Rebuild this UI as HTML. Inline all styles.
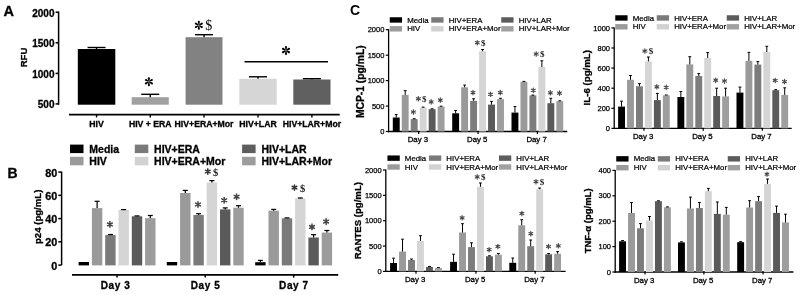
<!DOCTYPE html>
<html><head><meta charset="utf-8"><style>
html,body{margin:0;padding:0;background:#fff;overflow:hidden;}
svg{display:block;filter:grayscale(1) blur(0.3px);}
</style></head><body>
<svg width="800" height="295" viewBox="0 0 800 295">
<defs>
<g id="ast">
<path id="pet" d="M-0.11,-0.12 L-0.23,-0.77 A0.23,0.23 0 1 1 0.23,-0.77 L0.11,-0.12 Z"/>
<use href="#pet" transform="rotate(60)"/>
<use href="#pet" transform="rotate(120)"/>
<use href="#pet" transform="rotate(180)"/>
<use href="#pet" transform="rotate(240)"/>
<use href="#pet" transform="rotate(300)"/>
</g>
<g id="ast2">
<path d="M0,-0.82 L0,0.82 M-0.71,-0.41 L0.71,0.41 M-0.71,0.41 L0.71,-0.41" stroke-width="0.44" stroke-linecap="round" fill="none"/>
</g>
</defs>
<rect width="800" height="295" fill="#fff"/>
<text x="3.60" y="15.70" font-family="'Liberation Sans', sans-serif" font-size="14.5" font-weight="bold" text-anchor="start" fill="#000" stroke="#000" stroke-width="0.3">A</text>
<line x1="58.60" y1="11.50" x2="58.60" y2="104.80" stroke="#000" stroke-width="1.5"/>
<line x1="55.60" y1="12.20" x2="58.60" y2="12.20" stroke="#000" stroke-width="1.5"/>
<text x="54.50" y="16.70" font-family="'Liberation Sans', sans-serif" font-size="10" font-weight="bold" text-anchor="end" fill="#000" stroke="#000" stroke-width="0.3">2000</text>
<line x1="55.60" y1="42.80" x2="58.60" y2="42.80" stroke="#000" stroke-width="1.5"/>
<text x="54.50" y="47.30" font-family="'Liberation Sans', sans-serif" font-size="10" font-weight="bold" text-anchor="end" fill="#000" stroke="#000" stroke-width="0.3">1500</text>
<line x1="55.60" y1="73.40" x2="58.60" y2="73.40" stroke="#000" stroke-width="1.5"/>
<text x="54.50" y="77.90" font-family="'Liberation Sans', sans-serif" font-size="10" font-weight="bold" text-anchor="end" fill="#000" stroke="#000" stroke-width="0.3">1000</text>
<line x1="55.60" y1="103.90" x2="58.60" y2="103.90" stroke="#000" stroke-width="1.5"/>
<text x="54.50" y="108.40" font-family="'Liberation Sans', sans-serif" font-size="10" font-weight="bold" text-anchor="end" fill="#000" stroke="#000" stroke-width="0.3">500</text>
<text x="27.30" y="57.50" font-family="'Liberation Sans', sans-serif" font-size="9.6" font-weight="bold" text-anchor="middle" fill="#000" transform="rotate(-90 27.30 57.50)" stroke="#000" stroke-width="0.3">RFU</text>
<rect x="77.80" y="49.00" width="37.50" height="55.70" fill="#000000"/>
<line x1="96.55" y1="49.00" x2="96.55" y2="47.50" stroke="#000" stroke-width="1.4"/>
<line x1="87.55" y1="47.50" x2="105.55" y2="47.50" stroke="#000" stroke-width="1.4"/>
<line x1="96.55" y1="114.60" x2="96.55" y2="117.40" stroke="#000" stroke-width="1.4"/>
<text x="96.55" y="126.60" font-family="'Liberation Sans', sans-serif" font-size="8.7" font-weight="bold" text-anchor="middle" fill="#000" stroke="#000" stroke-width="0.3">HIV</text>
<rect x="131.70" y="97.20" width="37.10" height="7.50" fill="#a0a0a2"/>
<line x1="150.25" y1="97.20" x2="150.25" y2="94.30" stroke="#000" stroke-width="1.4"/>
<line x1="141.25" y1="94.30" x2="159.25" y2="94.30" stroke="#000" stroke-width="1.4"/>
<line x1="150.25" y1="114.60" x2="150.25" y2="117.40" stroke="#000" stroke-width="1.4"/>
<text x="150.25" y="126.60" font-family="'Liberation Sans', sans-serif" font-size="8.7" font-weight="bold" text-anchor="middle" fill="#000" stroke="#000" stroke-width="0.3">HIV + ERA</text>
<rect x="185.60" y="37.20" width="36.90" height="67.50" fill="#828282"/>
<line x1="204.05" y1="37.20" x2="204.05" y2="34.70" stroke="#000" stroke-width="1.4"/>
<line x1="195.05" y1="34.70" x2="213.05" y2="34.70" stroke="#000" stroke-width="1.4"/>
<line x1="204.05" y1="114.60" x2="204.05" y2="117.40" stroke="#000" stroke-width="1.4"/>
<text x="204.05" y="126.60" font-family="'Liberation Sans', sans-serif" font-size="8.7" font-weight="bold" text-anchor="middle" fill="#000" stroke="#000" stroke-width="0.3">HIV+ERA+Mor</text>
<rect x="239.30" y="78.80" width="37.40" height="25.90" fill="#d6d6d6"/>
<line x1="258.00" y1="78.80" x2="258.00" y2="76.80" stroke="#000" stroke-width="1.4"/>
<line x1="249.00" y1="76.80" x2="267.00" y2="76.80" stroke="#000" stroke-width="1.4"/>
<line x1="258.00" y1="114.60" x2="258.00" y2="117.40" stroke="#000" stroke-width="1.4"/>
<text x="258.00" y="126.60" font-family="'Liberation Sans', sans-serif" font-size="8.7" font-weight="bold" text-anchor="middle" fill="#000" stroke="#000" stroke-width="0.3">HIV+LAR</text>
<rect x="293.30" y="79.50" width="37.20" height="25.20" fill="#606060"/>
<line x1="311.90" y1="79.50" x2="311.90" y2="78.70" stroke="#000" stroke-width="1.4"/>
<line x1="302.90" y1="78.70" x2="320.90" y2="78.70" stroke="#000" stroke-width="1.4"/>
<line x1="311.90" y1="114.60" x2="311.90" y2="117.40" stroke="#000" stroke-width="1.4"/>
<text x="311.90" y="126.60" font-family="'Liberation Sans', sans-serif" font-size="8.7" font-weight="bold" text-anchor="middle" fill="#000" stroke="#000" stroke-width="0.3">HIV+LAR+Mor</text>
<line x1="69.00" y1="114.60" x2="339.70" y2="114.60" stroke="#000" stroke-width="1.6"/>
<use href="#ast" transform="translate(148.90 81.70) scale(4.500)" fill="#000"/>
<use href="#ast" transform="translate(198.85 25.30) scale(4.500)" fill="#000"/>
<text x="205.20" y="29.80" font-family="'Liberation Serif', serif" font-size="14" font-weight="normal" text-anchor="start" fill="#000">$</text>
<line x1="244.50" y1="61.70" x2="328.00" y2="61.70" stroke="#000" stroke-width="1.4"/>
<use href="#ast" transform="translate(286.00 50.50) scale(4.500)" fill="#000"/>
<text x="7.40" y="178.00" font-family="'Liberation Sans', sans-serif" font-size="14" font-weight="bold" text-anchor="start" fill="#000" stroke="#000" stroke-width="0.3">B</text>
<rect x="70.00" y="144.60" width="13.50" height="8.50" fill="#000000"/>
<text x="89.30" y="152.70" font-family="'Liberation Sans', sans-serif" font-size="10.5" font-weight="bold" text-anchor="start" fill="#000" stroke="#000" stroke-width="0.3">Media</text>
<rect x="70.00" y="156.80" width="13.50" height="8.50" fill="#9a9a9a"/>
<text x="89.30" y="164.90" font-family="'Liberation Sans', sans-serif" font-size="10.5" font-weight="bold" text-anchor="start" fill="#000" stroke="#000" stroke-width="0.3">HIV</text>
<rect x="134.80" y="144.60" width="13.50" height="8.50" fill="#7a7a7a"/>
<text x="154.10" y="152.70" font-family="'Liberation Sans', sans-serif" font-size="10.5" font-weight="bold" text-anchor="start" fill="#000" stroke="#000" stroke-width="0.3">HIV+ERA</text>
<rect x="134.80" y="156.80" width="13.50" height="8.50" fill="#d2d2d2"/>
<text x="154.10" y="164.90" font-family="'Liberation Sans', sans-serif" font-size="10.5" font-weight="bold" text-anchor="start" fill="#000" stroke="#000" stroke-width="0.3">HIV+ERA+Mor</text>
<rect x="242.10" y="144.60" width="13.50" height="8.50" fill="#5e5e5e"/>
<text x="261.40" y="152.70" font-family="'Liberation Sans', sans-serif" font-size="10.5" font-weight="bold" text-anchor="start" fill="#000" stroke="#000" stroke-width="0.3">HIV+LAR</text>
<rect x="242.10" y="156.80" width="13.50" height="8.50" fill="#9c9c9c"/>
<text x="261.40" y="164.90" font-family="'Liberation Sans', sans-serif" font-size="10.5" font-weight="bold" text-anchor="start" fill="#000" stroke="#000" stroke-width="0.3">HIV+LAR+Mor</text>
<line x1="61.60" y1="171.60" x2="61.60" y2="265.00" stroke="#000" stroke-width="1.5"/>
<line x1="58.30" y1="172.10" x2="61.60" y2="172.10" stroke="#000" stroke-width="1.5"/>
<text x="57.20" y="176.60" font-family="'Liberation Sans', sans-serif" font-size="10.8" font-weight="bold" text-anchor="end" fill="#000" stroke="#000" stroke-width="0.3">80</text>
<line x1="58.30" y1="195.35" x2="61.60" y2="195.35" stroke="#000" stroke-width="1.5"/>
<text x="57.20" y="199.85" font-family="'Liberation Sans', sans-serif" font-size="10.8" font-weight="bold" text-anchor="end" fill="#000" stroke="#000" stroke-width="0.3">60</text>
<line x1="58.30" y1="218.60" x2="61.60" y2="218.60" stroke="#000" stroke-width="1.5"/>
<text x="57.20" y="223.10" font-family="'Liberation Sans', sans-serif" font-size="10.8" font-weight="bold" text-anchor="end" fill="#000" stroke="#000" stroke-width="0.3">40</text>
<line x1="58.30" y1="241.85" x2="61.60" y2="241.85" stroke="#000" stroke-width="1.5"/>
<text x="57.20" y="246.35" font-family="'Liberation Sans', sans-serif" font-size="10.8" font-weight="bold" text-anchor="end" fill="#000" stroke="#000" stroke-width="0.3">20</text>
<line x1="58.30" y1="265.10" x2="61.60" y2="265.10" stroke="#000" stroke-width="1.5"/>
<text x="57.20" y="269.60" font-family="'Liberation Sans', sans-serif" font-size="10.8" font-weight="bold" text-anchor="end" fill="#000" stroke="#000" stroke-width="0.3">0</text>
<text x="40.80" y="216.80" font-family="'Liberation Sans', sans-serif" font-size="9.6" font-weight="bold" text-anchor="middle" fill="#000" transform="rotate(-90 40.80 216.80)" stroke="#000" stroke-width="0.3">p24 (pg/mL)</text>
<line x1="72.00" y1="274.90" x2="338.20" y2="274.90" stroke="#000" stroke-width="1.8"/>
<rect x="78.60" y="262.00" width="10.40" height="3.40" fill="#000000"/>
<rect x="91.90" y="208.10" width="10.40" height="57.30" fill="#9a9a9a"/>
<line x1="97.10" y1="208.10" x2="97.10" y2="201.30" stroke="#000" stroke-width="1.2"/>
<line x1="94.60" y1="201.30" x2="99.60" y2="201.30" stroke="#000" stroke-width="1.2"/>
<rect x="105.20" y="235.00" width="10.40" height="30.40" fill="#7a7a7a"/>
<line x1="110.40" y1="235.00" x2="110.40" y2="234.50" stroke="#000" stroke-width="1.2"/>
<line x1="107.90" y1="234.50" x2="112.90" y2="234.50" stroke="#000" stroke-width="1.2"/>
<rect x="118.50" y="210.00" width="10.40" height="55.40" fill="#d5d5d5"/>
<line x1="123.70" y1="210.00" x2="123.70" y2="209.60" stroke="#000" stroke-width="1.2"/>
<line x1="121.20" y1="209.60" x2="126.20" y2="209.60" stroke="#000" stroke-width="1.2"/>
<rect x="131.80" y="216.30" width="10.40" height="49.10" fill="#5a5a5a"/>
<line x1="137.00" y1="216.30" x2="137.00" y2="215.90" stroke="#000" stroke-width="1.2"/>
<line x1="134.50" y1="215.90" x2="139.50" y2="215.90" stroke="#000" stroke-width="1.2"/>
<rect x="145.10" y="218.20" width="10.40" height="47.20" fill="#9c9c9c"/>
<line x1="150.30" y1="218.20" x2="150.30" y2="215.50" stroke="#000" stroke-width="1.2"/>
<line x1="147.80" y1="215.50" x2="152.80" y2="215.50" stroke="#000" stroke-width="1.2"/>
<line x1="117.05" y1="274.80" x2="117.05" y2="277.60" stroke="#000" stroke-width="1.5"/>
<text x="115.55" y="288.90" font-family="'Liberation Sans', sans-serif" font-size="10" font-weight="bold" text-anchor="middle" fill="#000" stroke="#000" stroke-width="0.3" letter-spacing="0.6">Day 3</text>
<rect x="166.80" y="262.00" width="10.40" height="3.40" fill="#000000"/>
<rect x="180.10" y="193.00" width="10.40" height="72.40" fill="#9a9a9a"/>
<line x1="185.30" y1="193.00" x2="185.30" y2="190.40" stroke="#000" stroke-width="1.2"/>
<line x1="182.80" y1="190.40" x2="187.80" y2="190.40" stroke="#000" stroke-width="1.2"/>
<rect x="193.40" y="215.00" width="10.40" height="50.40" fill="#7a7a7a"/>
<line x1="198.60" y1="215.00" x2="198.60" y2="213.70" stroke="#000" stroke-width="1.2"/>
<line x1="196.10" y1="213.70" x2="201.10" y2="213.70" stroke="#000" stroke-width="1.2"/>
<rect x="206.70" y="182.50" width="10.40" height="82.90" fill="#d5d5d5"/>
<line x1="211.90" y1="182.50" x2="211.90" y2="180.60" stroke="#000" stroke-width="1.2"/>
<line x1="209.40" y1="180.60" x2="214.40" y2="180.60" stroke="#000" stroke-width="1.2"/>
<rect x="220.00" y="209.40" width="10.40" height="56.00" fill="#5a5a5a"/>
<line x1="225.20" y1="209.40" x2="225.20" y2="207.90" stroke="#000" stroke-width="1.2"/>
<line x1="222.70" y1="207.90" x2="227.70" y2="207.90" stroke="#000" stroke-width="1.2"/>
<rect x="233.30" y="207.70" width="10.40" height="57.70" fill="#9c9c9c"/>
<line x1="238.50" y1="207.70" x2="238.50" y2="205.70" stroke="#000" stroke-width="1.2"/>
<line x1="236.00" y1="205.70" x2="241.00" y2="205.70" stroke="#000" stroke-width="1.2"/>
<line x1="205.25" y1="274.80" x2="205.25" y2="277.60" stroke="#000" stroke-width="1.5"/>
<text x="205.55" y="288.90" font-family="'Liberation Sans', sans-serif" font-size="10" font-weight="bold" text-anchor="middle" fill="#000" stroke="#000" stroke-width="0.3" letter-spacing="0.6">Day 5</text>
<rect x="255.20" y="262.20" width="10.40" height="3.20" fill="#000000"/>
<line x1="260.40" y1="262.20" x2="260.40" y2="260.40" stroke="#000" stroke-width="1.2"/>
<line x1="257.90" y1="260.40" x2="262.90" y2="260.40" stroke="#000" stroke-width="1.2"/>
<rect x="268.50" y="210.70" width="10.40" height="54.70" fill="#9a9a9a"/>
<line x1="273.70" y1="210.70" x2="273.70" y2="209.40" stroke="#000" stroke-width="1.2"/>
<line x1="271.20" y1="209.40" x2="276.20" y2="209.40" stroke="#000" stroke-width="1.2"/>
<rect x="281.80" y="218.30" width="10.40" height="47.10" fill="#7a7a7a"/>
<line x1="287.00" y1="218.30" x2="287.00" y2="217.90" stroke="#000" stroke-width="1.2"/>
<line x1="284.50" y1="217.90" x2="289.50" y2="217.90" stroke="#000" stroke-width="1.2"/>
<rect x="295.10" y="198.40" width="10.40" height="67.00" fill="#d5d5d5"/>
<line x1="300.30" y1="198.40" x2="300.30" y2="198.00" stroke="#000" stroke-width="1.2"/>
<line x1="297.80" y1="198.00" x2="302.80" y2="198.00" stroke="#000" stroke-width="1.2"/>
<rect x="308.40" y="237.50" width="10.40" height="27.90" fill="#5a5a5a"/>
<line x1="313.60" y1="237.50" x2="313.60" y2="234.70" stroke="#000" stroke-width="1.2"/>
<line x1="311.10" y1="234.70" x2="316.10" y2="234.70" stroke="#000" stroke-width="1.2"/>
<rect x="321.70" y="232.60" width="10.40" height="32.80" fill="#9c9c9c"/>
<line x1="326.90" y1="232.60" x2="326.90" y2="230.50" stroke="#000" stroke-width="1.2"/>
<line x1="324.40" y1="230.50" x2="329.40" y2="230.50" stroke="#000" stroke-width="1.2"/>
<line x1="293.65" y1="274.80" x2="293.65" y2="277.60" stroke="#000" stroke-width="1.5"/>
<text x="293.95" y="288.90" font-family="'Liberation Sans', sans-serif" font-size="10" font-weight="bold" text-anchor="middle" fill="#000" stroke="#000" stroke-width="0.3" letter-spacing="0.6">Day 7</text>
<use href="#ast2" transform="translate(109.90 224.40) scale(3.400)" stroke="#454545"/>
<use href="#ast2" transform="translate(198.00 204.50) scale(3.400)" stroke="#454545"/>
<use href="#ast2" transform="translate(224.20 200.20) scale(3.400)" stroke="#454545"/>
<use href="#ast2" transform="translate(236.60 196.70) scale(3.400)" stroke="#454545"/>
<use href="#ast2" transform="translate(312.00 226.90) scale(3.400)" stroke="#454545"/>
<use href="#ast2" transform="translate(326.10 221.60) scale(3.400)" stroke="#454545"/>
<use href="#ast2" transform="translate(207.80 171.50) scale(3.300)" stroke="#333"/>
<text x="213.00" y="176.00" font-family="'Liberation Serif', serif" font-size="10.5" font-weight="bold" text-anchor="start" fill="#222">$</text>
<use href="#ast2" transform="translate(294.50 187.60) scale(3.300)" stroke="#333"/>
<text x="300.00" y="192.20" font-family="'Liberation Serif', serif" font-size="10.5" font-weight="bold" text-anchor="start" fill="#222">$</text>
<text x="349.90" y="15.30" font-family="'Liberation Sans', sans-serif" font-size="14" font-weight="bold" text-anchor="start" fill="#000">C</text>
<rect x="389.75" y="17.25" width="12.30" height="5.40" fill="#000000"/>
<text x="407.15" y="22.55" font-family="'Liberation Sans', sans-serif" font-size="7.85" font-weight="normal" text-anchor="start" fill="#000" stroke="#000" stroke-width="0.22">Media</text>
<rect x="389.75" y="26.10" width="12.30" height="5.40" fill="#9a9a9a"/>
<text x="407.15" y="31.40" font-family="'Liberation Sans', sans-serif" font-size="7.85" font-weight="normal" text-anchor="start" fill="#000" stroke="#000" stroke-width="0.22">HIV</text>
<rect x="431.25" y="17.25" width="12.30" height="5.40" fill="#7a7a7a"/>
<text x="448.65" y="22.55" font-family="'Liberation Sans', sans-serif" font-size="7.85" font-weight="normal" text-anchor="start" fill="#000" stroke="#000" stroke-width="0.22">HIV+ERA</text>
<rect x="431.25" y="26.10" width="12.30" height="5.40" fill="#d2d2d2"/>
<text x="448.65" y="31.40" font-family="'Liberation Sans', sans-serif" font-size="7.85" font-weight="normal" text-anchor="start" fill="#000" stroke="#000" stroke-width="0.22">HIV+ERA+Mor</text>
<rect x="501.25" y="17.25" width="12.30" height="5.40" fill="#5c5c5c"/>
<text x="518.65" y="22.55" font-family="'Liberation Sans', sans-serif" font-size="7.85" font-weight="normal" text-anchor="start" fill="#000" stroke="#000" stroke-width="0.22">HIV+LAR</text>
<rect x="501.25" y="26.10" width="12.30" height="5.40" fill="#a0a0a0"/>
<text x="518.65" y="31.40" font-family="'Liberation Sans', sans-serif" font-size="7.85" font-weight="normal" text-anchor="start" fill="#000" stroke="#000" stroke-width="0.22">HIV+LAR+Mor</text>
<line x1="388.60" y1="29.20" x2="388.60" y2="132.20" stroke="#000" stroke-width="1.3"/>
<line x1="385.80" y1="29.70" x2="388.60" y2="29.70" stroke="#000" stroke-width="1.2"/>
<text x="384.40" y="32.30" font-family="'Liberation Sans', sans-serif" font-size="7.5" font-weight="normal" text-anchor="end" fill="#000" stroke="#000" stroke-width="0.25">2000</text>
<line x1="385.80" y1="55.15" x2="388.60" y2="55.15" stroke="#000" stroke-width="1.2"/>
<text x="384.40" y="57.75" font-family="'Liberation Sans', sans-serif" font-size="7.5" font-weight="normal" text-anchor="end" fill="#000" stroke="#000" stroke-width="0.25">1500</text>
<line x1="385.80" y1="80.60" x2="388.60" y2="80.60" stroke="#000" stroke-width="1.2"/>
<text x="384.40" y="83.20" font-family="'Liberation Sans', sans-serif" font-size="7.5" font-weight="normal" text-anchor="end" fill="#000" stroke="#000" stroke-width="0.25">1000</text>
<line x1="385.80" y1="106.05" x2="388.60" y2="106.05" stroke="#000" stroke-width="1.2"/>
<text x="384.40" y="108.65" font-family="'Liberation Sans', sans-serif" font-size="7.5" font-weight="normal" text-anchor="end" fill="#000" stroke="#000" stroke-width="0.25">500</text>
<line x1="385.80" y1="131.50" x2="388.60" y2="131.50" stroke="#000" stroke-width="1.2"/>
<text x="384.40" y="134.10" font-family="'Liberation Sans', sans-serif" font-size="7.5" font-weight="normal" text-anchor="end" fill="#000" stroke="#000" stroke-width="0.25">0</text>
<line x1="388.00" y1="131.50" x2="567.20" y2="131.50" stroke="#000" stroke-width="1.4"/>
<rect x="392.80" y="117.50" width="6.90" height="14.00" fill="#000000"/>
<line x1="396.25" y1="117.50" x2="396.25" y2="114.60" stroke="#000" stroke-width="1.0"/>
<line x1="394.85" y1="114.60" x2="397.65" y2="114.60" stroke="#000" stroke-width="1.0"/>
<rect x="401.77" y="94.90" width="6.90" height="36.60" fill="#9a9a9a"/>
<line x1="405.22" y1="94.90" x2="405.22" y2="90.70" stroke="#000" stroke-width="1.0"/>
<line x1="403.82" y1="90.70" x2="406.62" y2="90.70" stroke="#000" stroke-width="1.0"/>
<rect x="410.74" y="119.10" width="6.90" height="12.40" fill="#7c7c7c"/>
<line x1="414.19" y1="119.10" x2="414.19" y2="118.70" stroke="#000" stroke-width="1.0"/>
<line x1="412.79" y1="118.70" x2="415.59" y2="118.70" stroke="#000" stroke-width="1.0"/>
<rect x="419.71" y="107.50" width="6.90" height="24.00" fill="#d5d5d5"/>
<line x1="423.16" y1="107.50" x2="423.16" y2="107.10" stroke="#000" stroke-width="1.0"/>
<line x1="421.76" y1="107.10" x2="424.56" y2="107.10" stroke="#000" stroke-width="1.0"/>
<rect x="428.68" y="109.20" width="6.90" height="22.30" fill="#5a5a5a"/>
<line x1="432.13" y1="109.20" x2="432.13" y2="108.80" stroke="#000" stroke-width="1.0"/>
<line x1="430.73" y1="108.80" x2="433.53" y2="108.80" stroke="#000" stroke-width="1.0"/>
<rect x="437.65" y="106.60" width="6.90" height="24.90" fill="#9e9e9e"/>
<line x1="441.10" y1="106.60" x2="441.10" y2="106.20" stroke="#000" stroke-width="1.0"/>
<line x1="439.70" y1="106.20" x2="442.50" y2="106.20" stroke="#000" stroke-width="1.0"/>
<line x1="418.68" y1="131.50" x2="418.68" y2="133.90" stroke="#000" stroke-width="1.2"/>
<text x="417.88" y="142.20" font-family="'Liberation Sans', sans-serif" font-size="7.8" font-weight="normal" text-anchor="middle" fill="#000" stroke="#000" stroke-width="0.3">Day 3</text>
<rect x="452.20" y="113.30" width="6.90" height="18.20" fill="#000000"/>
<line x1="455.65" y1="113.30" x2="455.65" y2="110.50" stroke="#000" stroke-width="1.0"/>
<line x1="454.25" y1="110.50" x2="457.05" y2="110.50" stroke="#000" stroke-width="1.0"/>
<rect x="461.17" y="87.30" width="6.90" height="44.20" fill="#9a9a9a"/>
<line x1="464.62" y1="87.30" x2="464.62" y2="85.10" stroke="#000" stroke-width="1.0"/>
<line x1="463.22" y1="85.10" x2="466.02" y2="85.10" stroke="#000" stroke-width="1.0"/>
<rect x="470.14" y="100.90" width="6.90" height="30.60" fill="#7c7c7c"/>
<line x1="473.59" y1="100.90" x2="473.59" y2="98.80" stroke="#000" stroke-width="1.0"/>
<line x1="472.19" y1="98.80" x2="474.99" y2="98.80" stroke="#000" stroke-width="1.0"/>
<rect x="479.11" y="51.20" width="6.90" height="80.30" fill="#d5d5d5"/>
<line x1="482.56" y1="51.20" x2="482.56" y2="49.50" stroke="#000" stroke-width="1.0"/>
<line x1="481.16" y1="49.50" x2="483.96" y2="49.50" stroke="#000" stroke-width="1.0"/>
<rect x="488.08" y="104.60" width="6.90" height="26.90" fill="#5a5a5a"/>
<line x1="491.53" y1="104.60" x2="491.53" y2="101.40" stroke="#000" stroke-width="1.0"/>
<line x1="490.13" y1="101.40" x2="492.93" y2="101.40" stroke="#000" stroke-width="1.0"/>
<rect x="497.05" y="99.10" width="6.90" height="32.40" fill="#9e9e9e"/>
<line x1="500.50" y1="99.10" x2="500.50" y2="98.30" stroke="#000" stroke-width="1.0"/>
<line x1="499.10" y1="98.30" x2="501.90" y2="98.30" stroke="#000" stroke-width="1.0"/>
<line x1="478.07" y1="131.50" x2="478.07" y2="133.90" stroke="#000" stroke-width="1.2"/>
<text x="477.27" y="142.20" font-family="'Liberation Sans', sans-serif" font-size="7.8" font-weight="normal" text-anchor="middle" fill="#000" stroke="#000" stroke-width="0.3">Day 5</text>
<rect x="511.50" y="112.60" width="6.90" height="18.90" fill="#000000"/>
<line x1="514.95" y1="112.60" x2="514.95" y2="106.50" stroke="#000" stroke-width="1.0"/>
<line x1="513.55" y1="106.50" x2="516.35" y2="106.50" stroke="#000" stroke-width="1.0"/>
<rect x="520.47" y="81.80" width="6.90" height="49.70" fill="#9a9a9a"/>
<line x1="523.92" y1="81.80" x2="523.92" y2="81.40" stroke="#000" stroke-width="1.0"/>
<line x1="522.52" y1="81.40" x2="525.32" y2="81.40" stroke="#000" stroke-width="1.0"/>
<rect x="529.44" y="95.40" width="6.90" height="36.10" fill="#7c7c7c"/>
<line x1="532.89" y1="95.40" x2="532.89" y2="95.10" stroke="#000" stroke-width="1.0"/>
<line x1="531.49" y1="95.10" x2="534.29" y2="95.10" stroke="#000" stroke-width="1.0"/>
<rect x="538.41" y="67.10" width="6.90" height="64.40" fill="#d5d5d5"/>
<line x1="541.86" y1="67.10" x2="541.86" y2="60.80" stroke="#000" stroke-width="1.0"/>
<line x1="540.46" y1="60.80" x2="543.26" y2="60.80" stroke="#000" stroke-width="1.0"/>
<rect x="547.38" y="103.20" width="6.90" height="28.30" fill="#5a5a5a"/>
<line x1="550.83" y1="103.20" x2="550.83" y2="98.30" stroke="#000" stroke-width="1.0"/>
<line x1="549.43" y1="98.30" x2="552.23" y2="98.30" stroke="#000" stroke-width="1.0"/>
<rect x="556.35" y="101.20" width="6.90" height="30.30" fill="#9e9e9e"/>
<line x1="559.80" y1="101.20" x2="559.80" y2="100.80" stroke="#000" stroke-width="1.0"/>
<line x1="558.40" y1="100.80" x2="561.20" y2="100.80" stroke="#000" stroke-width="1.0"/>
<line x1="537.38" y1="131.50" x2="537.38" y2="133.90" stroke="#000" stroke-width="1.2"/>
<text x="536.58" y="142.20" font-family="'Liberation Sans', sans-serif" font-size="7.8" font-weight="normal" text-anchor="middle" fill="#000" stroke="#000" stroke-width="0.3">Day 7</text>
<text x="363.60" y="81.70" font-family="'Liberation Sans', sans-serif" font-size="10.3" font-weight="bold" text-anchor="middle" fill="#000" transform="rotate(-90 363.60 81.70)" stroke="#000" stroke-width="0.3">MCP-1 (pg/mL)</text>
<rect x="615.25" y="15.25" width="12.30" height="5.40" fill="#000000"/>
<text x="632.65" y="20.55" font-family="'Liberation Sans', sans-serif" font-size="7.85" font-weight="normal" text-anchor="start" fill="#000" stroke="#000" stroke-width="0.22">Media</text>
<rect x="615.25" y="24.10" width="12.30" height="5.40" fill="#9a9a9a"/>
<text x="632.65" y="29.40" font-family="'Liberation Sans', sans-serif" font-size="7.85" font-weight="normal" text-anchor="start" fill="#000" stroke="#000" stroke-width="0.22">HIV</text>
<rect x="656.75" y="15.25" width="12.30" height="5.40" fill="#7a7a7a"/>
<text x="674.15" y="20.55" font-family="'Liberation Sans', sans-serif" font-size="7.85" font-weight="normal" text-anchor="start" fill="#000" stroke="#000" stroke-width="0.22">HIV+ERA</text>
<rect x="656.75" y="24.10" width="12.30" height="5.40" fill="#d2d2d2"/>
<text x="674.15" y="29.40" font-family="'Liberation Sans', sans-serif" font-size="7.85" font-weight="normal" text-anchor="start" fill="#000" stroke="#000" stroke-width="0.22">HIV+ERA+Mor</text>
<rect x="726.75" y="15.25" width="12.30" height="5.40" fill="#5c5c5c"/>
<text x="744.15" y="20.55" font-family="'Liberation Sans', sans-serif" font-size="7.85" font-weight="normal" text-anchor="start" fill="#000" stroke="#000" stroke-width="0.22">HIV+LAR</text>
<rect x="726.75" y="24.10" width="12.30" height="5.40" fill="#a0a0a0"/>
<text x="744.15" y="29.40" font-family="'Liberation Sans', sans-serif" font-size="7.85" font-weight="normal" text-anchor="start" fill="#000" stroke="#000" stroke-width="0.22">HIV+LAR+Mor</text>
<line x1="614.20" y1="27.40" x2="614.20" y2="129.10" stroke="#000" stroke-width="1.3"/>
<line x1="611.40" y1="27.90" x2="614.20" y2="27.90" stroke="#000" stroke-width="1.2"/>
<text x="610.00" y="30.50" font-family="'Liberation Sans', sans-serif" font-size="7.5" font-weight="normal" text-anchor="end" fill="#000" stroke="#000" stroke-width="0.25">1000</text>
<line x1="611.40" y1="48.00" x2="614.20" y2="48.00" stroke="#000" stroke-width="1.2"/>
<text x="610.00" y="50.60" font-family="'Liberation Sans', sans-serif" font-size="7.5" font-weight="normal" text-anchor="end" fill="#000" stroke="#000" stroke-width="0.25">800</text>
<line x1="611.40" y1="68.10" x2="614.20" y2="68.10" stroke="#000" stroke-width="1.2"/>
<text x="610.00" y="70.70" font-family="'Liberation Sans', sans-serif" font-size="7.5" font-weight="normal" text-anchor="end" fill="#000" stroke="#000" stroke-width="0.25">600</text>
<line x1="611.40" y1="88.20" x2="614.20" y2="88.20" stroke="#000" stroke-width="1.2"/>
<text x="610.00" y="90.80" font-family="'Liberation Sans', sans-serif" font-size="7.5" font-weight="normal" text-anchor="end" fill="#000" stroke="#000" stroke-width="0.25">400</text>
<line x1="611.40" y1="108.30" x2="614.20" y2="108.30" stroke="#000" stroke-width="1.2"/>
<text x="610.00" y="110.90" font-family="'Liberation Sans', sans-serif" font-size="7.5" font-weight="normal" text-anchor="end" fill="#000" stroke="#000" stroke-width="0.25">200</text>
<line x1="611.40" y1="128.40" x2="614.20" y2="128.40" stroke="#000" stroke-width="1.2"/>
<text x="610.00" y="131.00" font-family="'Liberation Sans', sans-serif" font-size="7.5" font-weight="normal" text-anchor="end" fill="#000" stroke="#000" stroke-width="0.25">0</text>
<line x1="613.60" y1="128.40" x2="791.70" y2="128.40" stroke="#000" stroke-width="1.4"/>
<rect x="618.10" y="106.60" width="6.90" height="21.80" fill="#000000"/>
<line x1="621.55" y1="106.60" x2="621.55" y2="101.20" stroke="#000" stroke-width="1.0"/>
<line x1="620.15" y1="101.20" x2="622.95" y2="101.20" stroke="#000" stroke-width="1.0"/>
<rect x="627.05" y="79.80" width="6.90" height="48.60" fill="#9a9a9a"/>
<line x1="630.50" y1="79.80" x2="630.50" y2="75.50" stroke="#000" stroke-width="1.0"/>
<line x1="629.10" y1="75.50" x2="631.90" y2="75.50" stroke="#000" stroke-width="1.0"/>
<rect x="636.00" y="86.30" width="6.90" height="42.10" fill="#7c7c7c"/>
<line x1="639.45" y1="86.30" x2="639.45" y2="83.60" stroke="#000" stroke-width="1.0"/>
<line x1="638.05" y1="83.60" x2="640.85" y2="83.60" stroke="#000" stroke-width="1.0"/>
<rect x="644.95" y="61.40" width="6.90" height="67.00" fill="#d5d5d5"/>
<line x1="648.40" y1="61.40" x2="648.40" y2="57.00" stroke="#000" stroke-width="1.0"/>
<line x1="647.00" y1="57.00" x2="649.80" y2="57.00" stroke="#000" stroke-width="1.0"/>
<rect x="653.90" y="100.10" width="6.90" height="28.30" fill="#5a5a5a"/>
<line x1="657.35" y1="100.10" x2="657.35" y2="93.40" stroke="#000" stroke-width="1.0"/>
<line x1="655.95" y1="93.40" x2="658.75" y2="93.40" stroke="#000" stroke-width="1.0"/>
<rect x="662.85" y="95.30" width="6.90" height="33.10" fill="#9e9e9e"/>
<line x1="664.90" y1="95.00" x2="667.70" y2="95.00" stroke="#000" stroke-width="1.0"/>
<line x1="643.93" y1="128.40" x2="643.93" y2="130.80" stroke="#000" stroke-width="1.2"/>
<text x="643.13" y="139.10" font-family="'Liberation Sans', sans-serif" font-size="7.8" font-weight="normal" text-anchor="middle" fill="#000" stroke="#000" stroke-width="0.3">Day 3</text>
<rect x="677.40" y="97.00" width="6.90" height="31.40" fill="#000000"/>
<line x1="680.85" y1="97.00" x2="680.85" y2="91.50" stroke="#000" stroke-width="1.0"/>
<line x1="679.45" y1="91.50" x2="682.25" y2="91.50" stroke="#000" stroke-width="1.0"/>
<rect x="686.35" y="64.40" width="6.90" height="64.00" fill="#9a9a9a"/>
<line x1="689.80" y1="64.40" x2="689.80" y2="56.70" stroke="#000" stroke-width="1.0"/>
<line x1="688.40" y1="56.70" x2="691.20" y2="56.70" stroke="#000" stroke-width="1.0"/>
<rect x="695.30" y="76.00" width="6.90" height="52.40" fill="#7c7c7c"/>
<line x1="698.75" y1="76.00" x2="698.75" y2="73.60" stroke="#000" stroke-width="1.0"/>
<line x1="697.35" y1="73.60" x2="700.15" y2="73.60" stroke="#000" stroke-width="1.0"/>
<rect x="704.25" y="57.90" width="6.90" height="70.50" fill="#d5d5d5"/>
<line x1="707.70" y1="57.90" x2="707.70" y2="52.60" stroke="#000" stroke-width="1.0"/>
<line x1="706.30" y1="52.60" x2="709.10" y2="52.60" stroke="#000" stroke-width="1.0"/>
<rect x="713.20" y="96.00" width="6.90" height="32.40" fill="#5a5a5a"/>
<line x1="716.65" y1="96.00" x2="716.65" y2="88.20" stroke="#000" stroke-width="1.0"/>
<line x1="715.25" y1="88.20" x2="718.05" y2="88.20" stroke="#000" stroke-width="1.0"/>
<rect x="722.15" y="96.40" width="6.90" height="32.00" fill="#9e9e9e"/>
<line x1="725.60" y1="96.40" x2="725.60" y2="88.20" stroke="#000" stroke-width="1.0"/>
<line x1="724.20" y1="88.20" x2="727.00" y2="88.20" stroke="#000" stroke-width="1.0"/>
<line x1="703.23" y1="128.40" x2="703.23" y2="130.80" stroke="#000" stroke-width="1.2"/>
<text x="702.43" y="139.10" font-family="'Liberation Sans', sans-serif" font-size="7.8" font-weight="normal" text-anchor="middle" fill="#000" stroke="#000" stroke-width="0.3">Day 5</text>
<rect x="736.50" y="92.60" width="6.90" height="35.80" fill="#000000"/>
<line x1="739.95" y1="92.60" x2="739.95" y2="87.10" stroke="#000" stroke-width="1.0"/>
<line x1="738.55" y1="87.10" x2="741.35" y2="87.10" stroke="#000" stroke-width="1.0"/>
<rect x="745.45" y="60.90" width="6.90" height="67.50" fill="#9a9a9a"/>
<line x1="748.90" y1="60.90" x2="748.90" y2="52.40" stroke="#000" stroke-width="1.0"/>
<line x1="747.50" y1="52.40" x2="750.30" y2="52.40" stroke="#000" stroke-width="1.0"/>
<rect x="754.40" y="64.60" width="6.90" height="63.80" fill="#7c7c7c"/>
<line x1="757.85" y1="64.60" x2="757.85" y2="61.60" stroke="#000" stroke-width="1.0"/>
<line x1="756.45" y1="61.60" x2="759.25" y2="61.60" stroke="#000" stroke-width="1.0"/>
<rect x="763.35" y="52.00" width="6.90" height="76.40" fill="#d5d5d5"/>
<line x1="766.80" y1="52.00" x2="766.80" y2="46.30" stroke="#000" stroke-width="1.0"/>
<line x1="765.40" y1="46.30" x2="768.20" y2="46.30" stroke="#000" stroke-width="1.0"/>
<rect x="772.30" y="90.20" width="6.90" height="38.20" fill="#5a5a5a"/>
<line x1="775.75" y1="90.20" x2="775.75" y2="89.70" stroke="#000" stroke-width="1.0"/>
<line x1="774.35" y1="89.70" x2="777.15" y2="89.70" stroke="#000" stroke-width="1.0"/>
<rect x="781.25" y="94.90" width="6.90" height="33.50" fill="#9e9e9e"/>
<line x1="784.70" y1="94.90" x2="784.70" y2="87.80" stroke="#000" stroke-width="1.0"/>
<line x1="783.30" y1="87.80" x2="786.10" y2="87.80" stroke="#000" stroke-width="1.0"/>
<line x1="762.33" y1="128.40" x2="762.33" y2="130.80" stroke="#000" stroke-width="1.2"/>
<text x="761.53" y="139.10" font-family="'Liberation Sans', sans-serif" font-size="7.8" font-weight="normal" text-anchor="middle" fill="#000" stroke="#000" stroke-width="0.3">Day 7</text>
<text x="590.20" y="77.70" font-family="'Liberation Sans', sans-serif" font-size="9.7" font-weight="bold" text-anchor="middle" fill="#000" transform="rotate(-90 590.20 77.70)" stroke="#000" stroke-width="0.3">IL-6 (pg/mL)</text>
<rect x="387.45" y="155.45" width="12.30" height="5.40" fill="#000000"/>
<text x="404.85" y="160.75" font-family="'Liberation Sans', sans-serif" font-size="7.85" font-weight="normal" text-anchor="start" fill="#000" stroke="#000" stroke-width="0.22">Media</text>
<rect x="387.45" y="164.30" width="12.30" height="5.40" fill="#9a9a9a"/>
<text x="404.85" y="169.60" font-family="'Liberation Sans', sans-serif" font-size="7.85" font-weight="normal" text-anchor="start" fill="#000" stroke="#000" stroke-width="0.22">HIV</text>
<rect x="428.95" y="155.45" width="12.30" height="5.40" fill="#7a7a7a"/>
<text x="446.35" y="160.75" font-family="'Liberation Sans', sans-serif" font-size="7.85" font-weight="normal" text-anchor="start" fill="#000" stroke="#000" stroke-width="0.22">HIV+ERA</text>
<rect x="428.95" y="164.30" width="12.30" height="5.40" fill="#d2d2d2"/>
<text x="446.35" y="169.60" font-family="'Liberation Sans', sans-serif" font-size="7.85" font-weight="normal" text-anchor="start" fill="#000" stroke="#000" stroke-width="0.22">HIV+ERA+Mor</text>
<rect x="498.95" y="155.45" width="12.30" height="5.40" fill="#5c5c5c"/>
<text x="516.35" y="160.75" font-family="'Liberation Sans', sans-serif" font-size="7.85" font-weight="normal" text-anchor="start" fill="#000" stroke="#000" stroke-width="0.22">HIV+LAR</text>
<rect x="498.95" y="164.30" width="12.30" height="5.40" fill="#a0a0a0"/>
<text x="516.35" y="169.60" font-family="'Liberation Sans', sans-serif" font-size="7.85" font-weight="normal" text-anchor="start" fill="#000" stroke="#000" stroke-width="0.22">HIV+LAR+Mor</text>
<line x1="385.80" y1="169.60" x2="385.80" y2="272.10" stroke="#000" stroke-width="1.3"/>
<line x1="383.00" y1="170.00" x2="385.80" y2="170.00" stroke="#000" stroke-width="1.2"/>
<text x="381.60" y="172.60" font-family="'Liberation Sans', sans-serif" font-size="7.5" font-weight="normal" text-anchor="end" fill="#000" stroke="#000" stroke-width="0.25">2000</text>
<line x1="383.00" y1="195.35" x2="385.80" y2="195.35" stroke="#000" stroke-width="1.2"/>
<text x="381.60" y="197.95" font-family="'Liberation Sans', sans-serif" font-size="7.5" font-weight="normal" text-anchor="end" fill="#000" stroke="#000" stroke-width="0.25">1500</text>
<line x1="383.00" y1="220.70" x2="385.80" y2="220.70" stroke="#000" stroke-width="1.2"/>
<text x="381.60" y="223.30" font-family="'Liberation Sans', sans-serif" font-size="7.5" font-weight="normal" text-anchor="end" fill="#000" stroke="#000" stroke-width="0.25">1000</text>
<line x1="383.00" y1="246.05" x2="385.80" y2="246.05" stroke="#000" stroke-width="1.2"/>
<text x="381.60" y="248.65" font-family="'Liberation Sans', sans-serif" font-size="7.5" font-weight="normal" text-anchor="end" fill="#000" stroke="#000" stroke-width="0.25">500</text>
<line x1="383.00" y1="271.40" x2="385.80" y2="271.40" stroke="#000" stroke-width="1.2"/>
<text x="381.60" y="274.00" font-family="'Liberation Sans', sans-serif" font-size="7.5" font-weight="normal" text-anchor="end" fill="#000" stroke="#000" stroke-width="0.25">0</text>
<line x1="385.20" y1="271.40" x2="565.60" y2="271.40" stroke="#000" stroke-width="1.4"/>
<rect x="390.10" y="263.00" width="6.90" height="8.40" fill="#000000"/>
<line x1="393.55" y1="263.00" x2="393.55" y2="258.20" stroke="#000" stroke-width="1.0"/>
<line x1="392.15" y1="258.20" x2="394.95" y2="258.20" stroke="#000" stroke-width="1.0"/>
<rect x="399.07" y="251.60" width="6.90" height="19.80" fill="#9a9a9a"/>
<line x1="402.52" y1="251.60" x2="402.52" y2="239.20" stroke="#000" stroke-width="1.0"/>
<line x1="401.12" y1="239.20" x2="403.92" y2="239.20" stroke="#000" stroke-width="1.0"/>
<rect x="408.04" y="259.90" width="6.90" height="11.50" fill="#7c7c7c"/>
<line x1="411.49" y1="259.90" x2="411.49" y2="259.00" stroke="#000" stroke-width="1.0"/>
<line x1="410.09" y1="259.00" x2="412.89" y2="259.00" stroke="#000" stroke-width="1.0"/>
<rect x="417.01" y="240.90" width="6.90" height="30.50" fill="#d5d5d5"/>
<line x1="420.46" y1="240.90" x2="420.46" y2="235.70" stroke="#000" stroke-width="1.0"/>
<line x1="419.06" y1="235.70" x2="421.86" y2="235.70" stroke="#000" stroke-width="1.0"/>
<rect x="425.98" y="267.00" width="6.90" height="4.40" fill="#5a5a5a"/>
<line x1="429.43" y1="267.00" x2="429.43" y2="266.50" stroke="#000" stroke-width="1.0"/>
<line x1="428.03" y1="266.50" x2="430.83" y2="266.50" stroke="#000" stroke-width="1.0"/>
<rect x="434.95" y="268.00" width="6.90" height="3.40" fill="#9e9e9e"/>
<line x1="438.40" y1="268.00" x2="438.40" y2="267.50" stroke="#000" stroke-width="1.0"/>
<line x1="437.00" y1="267.50" x2="439.80" y2="267.50" stroke="#000" stroke-width="1.0"/>
<line x1="415.98" y1="271.40" x2="415.98" y2="273.80" stroke="#000" stroke-width="1.2"/>
<text x="415.18" y="282.10" font-family="'Liberation Sans', sans-serif" font-size="7.8" font-weight="normal" text-anchor="middle" fill="#000" stroke="#000" stroke-width="0.3">Day 3</text>
<rect x="450.10" y="261.80" width="6.90" height="9.60" fill="#000000"/>
<line x1="453.55" y1="261.80" x2="453.55" y2="254.20" stroke="#000" stroke-width="1.0"/>
<line x1="452.15" y1="254.20" x2="454.95" y2="254.20" stroke="#000" stroke-width="1.0"/>
<rect x="459.07" y="232.50" width="6.90" height="38.90" fill="#9a9a9a"/>
<line x1="462.52" y1="232.50" x2="462.52" y2="223.70" stroke="#000" stroke-width="1.0"/>
<line x1="461.12" y1="223.70" x2="463.92" y2="223.70" stroke="#000" stroke-width="1.0"/>
<rect x="468.04" y="247.10" width="6.90" height="24.30" fill="#7c7c7c"/>
<line x1="471.49" y1="247.10" x2="471.49" y2="242.80" stroke="#000" stroke-width="1.0"/>
<line x1="470.09" y1="242.80" x2="472.89" y2="242.80" stroke="#000" stroke-width="1.0"/>
<rect x="477.01" y="186.80" width="6.90" height="84.60" fill="#d5d5d5"/>
<line x1="480.46" y1="186.80" x2="480.46" y2="183.00" stroke="#000" stroke-width="1.0"/>
<line x1="479.06" y1="183.00" x2="481.86" y2="183.00" stroke="#000" stroke-width="1.0"/>
<rect x="485.98" y="256.30" width="6.90" height="15.10" fill="#5a5a5a"/>
<line x1="489.43" y1="256.30" x2="489.43" y2="255.80" stroke="#000" stroke-width="1.0"/>
<line x1="488.03" y1="255.80" x2="490.83" y2="255.80" stroke="#000" stroke-width="1.0"/>
<rect x="494.95" y="254.70" width="6.90" height="16.70" fill="#9e9e9e"/>
<line x1="498.40" y1="254.70" x2="498.40" y2="253.50" stroke="#000" stroke-width="1.0"/>
<line x1="497.00" y1="253.50" x2="499.80" y2="253.50" stroke="#000" stroke-width="1.0"/>
<line x1="475.98" y1="271.40" x2="475.98" y2="273.80" stroke="#000" stroke-width="1.2"/>
<text x="475.18" y="282.10" font-family="'Liberation Sans', sans-serif" font-size="7.8" font-weight="normal" text-anchor="middle" fill="#000" stroke="#000" stroke-width="0.3">Day 5</text>
<rect x="509.30" y="262.80" width="6.90" height="8.60" fill="#000000"/>
<line x1="512.75" y1="262.80" x2="512.75" y2="258.00" stroke="#000" stroke-width="1.0"/>
<line x1="511.35" y1="258.00" x2="514.15" y2="258.00" stroke="#000" stroke-width="1.0"/>
<rect x="518.27" y="225.30" width="6.90" height="46.10" fill="#9a9a9a"/>
<line x1="521.72" y1="225.30" x2="521.72" y2="219.70" stroke="#000" stroke-width="1.0"/>
<line x1="520.32" y1="219.70" x2="523.12" y2="219.70" stroke="#000" stroke-width="1.0"/>
<rect x="527.24" y="246.20" width="6.90" height="25.20" fill="#7c7c7c"/>
<line x1="530.69" y1="246.20" x2="530.69" y2="240.00" stroke="#000" stroke-width="1.0"/>
<line x1="529.29" y1="240.00" x2="532.09" y2="240.00" stroke="#000" stroke-width="1.0"/>
<rect x="536.21" y="189.20" width="6.90" height="82.20" fill="#d5d5d5"/>
<line x1="539.66" y1="189.20" x2="539.66" y2="188.00" stroke="#000" stroke-width="1.0"/>
<line x1="538.26" y1="188.00" x2="541.06" y2="188.00" stroke="#000" stroke-width="1.0"/>
<rect x="545.18" y="254.30" width="6.90" height="17.10" fill="#5a5a5a"/>
<line x1="548.63" y1="254.30" x2="548.63" y2="253.50" stroke="#000" stroke-width="1.0"/>
<line x1="547.23" y1="253.50" x2="550.03" y2="253.50" stroke="#000" stroke-width="1.0"/>
<rect x="554.15" y="253.80" width="6.90" height="17.60" fill="#9e9e9e"/>
<line x1="557.60" y1="253.80" x2="557.60" y2="251.60" stroke="#000" stroke-width="1.0"/>
<line x1="556.20" y1="251.60" x2="559.00" y2="251.60" stroke="#000" stroke-width="1.0"/>
<line x1="535.17" y1="271.40" x2="535.17" y2="273.80" stroke="#000" stroke-width="1.2"/>
<text x="534.38" y="282.10" font-family="'Liberation Sans', sans-serif" font-size="7.8" font-weight="normal" text-anchor="middle" fill="#000" stroke="#000" stroke-width="0.3">Day 7</text>
<text x="361.00" y="220.70" font-family="'Liberation Sans', sans-serif" font-size="9.6" font-weight="bold" text-anchor="middle" fill="#000" transform="rotate(-90 361.00 220.70)" stroke="#000" stroke-width="0.3">RANTES (pg/mL)</text>
<rect x="616.25" y="156.15" width="12.30" height="5.40" fill="#000000"/>
<text x="633.65" y="161.45" font-family="'Liberation Sans', sans-serif" font-size="7.85" font-weight="normal" text-anchor="start" fill="#000" stroke="#000" stroke-width="0.22">Media</text>
<rect x="616.25" y="165.00" width="12.30" height="5.40" fill="#9a9a9a"/>
<text x="633.65" y="170.30" font-family="'Liberation Sans', sans-serif" font-size="7.85" font-weight="normal" text-anchor="start" fill="#000" stroke="#000" stroke-width="0.22">HIV</text>
<rect x="657.75" y="156.15" width="12.30" height="5.40" fill="#7a7a7a"/>
<text x="675.15" y="161.45" font-family="'Liberation Sans', sans-serif" font-size="7.85" font-weight="normal" text-anchor="start" fill="#000" stroke="#000" stroke-width="0.22">HIV+ERA</text>
<rect x="657.75" y="165.00" width="12.30" height="5.40" fill="#d2d2d2"/>
<text x="675.15" y="170.30" font-family="'Liberation Sans', sans-serif" font-size="7.85" font-weight="normal" text-anchor="start" fill="#000" stroke="#000" stroke-width="0.22">HIV+ERA+Mor</text>
<rect x="727.75" y="156.15" width="12.30" height="5.40" fill="#5c5c5c"/>
<text x="745.15" y="161.45" font-family="'Liberation Sans', sans-serif" font-size="7.85" font-weight="normal" text-anchor="start" fill="#000" stroke="#000" stroke-width="0.22">HIV+LAR</text>
<rect x="727.75" y="165.00" width="12.30" height="5.40" fill="#a0a0a0"/>
<text x="745.15" y="170.30" font-family="'Liberation Sans', sans-serif" font-size="7.85" font-weight="normal" text-anchor="start" fill="#000" stroke="#000" stroke-width="0.22">HIV+LAR+Mor</text>
<line x1="615.20" y1="169.90" x2="615.20" y2="272.70" stroke="#000" stroke-width="1.3"/>
<line x1="612.40" y1="170.40" x2="615.20" y2="170.40" stroke="#000" stroke-width="1.2"/>
<text x="611.00" y="173.00" font-family="'Liberation Sans', sans-serif" font-size="7.5" font-weight="normal" text-anchor="end" fill="#000" stroke="#000" stroke-width="0.25">400</text>
<line x1="612.40" y1="195.80" x2="615.20" y2="195.80" stroke="#000" stroke-width="1.2"/>
<text x="611.00" y="198.40" font-family="'Liberation Sans', sans-serif" font-size="7.5" font-weight="normal" text-anchor="end" fill="#000" stroke="#000" stroke-width="0.25">300</text>
<line x1="612.40" y1="221.20" x2="615.20" y2="221.20" stroke="#000" stroke-width="1.2"/>
<text x="611.00" y="223.80" font-family="'Liberation Sans', sans-serif" font-size="7.5" font-weight="normal" text-anchor="end" fill="#000" stroke="#000" stroke-width="0.25">200</text>
<line x1="612.40" y1="246.60" x2="615.20" y2="246.60" stroke="#000" stroke-width="1.2"/>
<text x="611.00" y="249.20" font-family="'Liberation Sans', sans-serif" font-size="7.5" font-weight="normal" text-anchor="end" fill="#000" stroke="#000" stroke-width="0.25">100</text>
<line x1="612.40" y1="272.00" x2="615.20" y2="272.00" stroke="#000" stroke-width="1.2"/>
<text x="611.00" y="274.60" font-family="'Liberation Sans', sans-serif" font-size="7.5" font-weight="normal" text-anchor="end" fill="#000" stroke="#000" stroke-width="0.25">0</text>
<line x1="614.60" y1="272.00" x2="793.40" y2="272.00" stroke="#000" stroke-width="1.4"/>
<rect x="619.10" y="241.30" width="6.90" height="30.70" fill="#000000"/>
<line x1="622.55" y1="241.30" x2="622.55" y2="240.50" stroke="#000" stroke-width="1.0"/>
<line x1="621.15" y1="240.50" x2="623.95" y2="240.50" stroke="#000" stroke-width="1.0"/>
<rect x="628.07" y="213.00" width="6.90" height="59.00" fill="#9a9a9a"/>
<line x1="631.52" y1="213.00" x2="631.52" y2="202.60" stroke="#000" stroke-width="1.0"/>
<line x1="630.12" y1="202.60" x2="632.92" y2="202.60" stroke="#000" stroke-width="1.0"/>
<rect x="637.04" y="228.30" width="6.90" height="43.70" fill="#7c7c7c"/>
<line x1="640.49" y1="228.30" x2="640.49" y2="223.60" stroke="#000" stroke-width="1.0"/>
<line x1="639.09" y1="223.60" x2="641.89" y2="223.60" stroke="#000" stroke-width="1.0"/>
<rect x="646.01" y="220.50" width="6.90" height="51.50" fill="#d5d5d5"/>
<line x1="649.46" y1="220.50" x2="649.46" y2="216.50" stroke="#000" stroke-width="1.0"/>
<line x1="648.06" y1="216.50" x2="650.86" y2="216.50" stroke="#000" stroke-width="1.0"/>
<rect x="654.98" y="201.20" width="6.90" height="70.80" fill="#5a5a5a"/>
<line x1="658.43" y1="201.20" x2="658.43" y2="200.80" stroke="#000" stroke-width="1.0"/>
<line x1="657.03" y1="200.80" x2="659.83" y2="200.80" stroke="#000" stroke-width="1.0"/>
<rect x="663.95" y="207.30" width="6.90" height="64.70" fill="#9e9e9e"/>
<line x1="667.40" y1="207.30" x2="667.40" y2="206.90" stroke="#000" stroke-width="1.0"/>
<line x1="666.00" y1="206.90" x2="668.80" y2="206.90" stroke="#000" stroke-width="1.0"/>
<line x1="644.98" y1="272.00" x2="644.98" y2="274.40" stroke="#000" stroke-width="1.2"/>
<text x="644.18" y="282.70" font-family="'Liberation Sans', sans-serif" font-size="7.8" font-weight="normal" text-anchor="middle" fill="#000" stroke="#000" stroke-width="0.3">Day 3</text>
<rect x="678.00" y="242.40" width="6.90" height="29.60" fill="#000000"/>
<line x1="681.45" y1="242.40" x2="681.45" y2="241.80" stroke="#000" stroke-width="1.0"/>
<line x1="680.05" y1="241.80" x2="682.85" y2="241.80" stroke="#000" stroke-width="1.0"/>
<rect x="686.97" y="208.50" width="6.90" height="63.50" fill="#9a9a9a"/>
<line x1="690.42" y1="208.50" x2="690.42" y2="197.10" stroke="#000" stroke-width="1.0"/>
<line x1="689.02" y1="197.10" x2="691.82" y2="197.10" stroke="#000" stroke-width="1.0"/>
<rect x="695.94" y="208.00" width="6.90" height="64.00" fill="#7c7c7c"/>
<line x1="699.39" y1="208.00" x2="699.39" y2="202.50" stroke="#000" stroke-width="1.0"/>
<line x1="697.99" y1="202.50" x2="700.79" y2="202.50" stroke="#000" stroke-width="1.0"/>
<rect x="704.91" y="191.20" width="6.90" height="80.80" fill="#d5d5d5"/>
<line x1="708.36" y1="191.20" x2="708.36" y2="188.40" stroke="#000" stroke-width="1.0"/>
<line x1="706.96" y1="188.40" x2="709.76" y2="188.40" stroke="#000" stroke-width="1.0"/>
<rect x="713.88" y="213.90" width="6.90" height="58.10" fill="#5a5a5a"/>
<line x1="717.33" y1="213.90" x2="717.33" y2="202.00" stroke="#000" stroke-width="1.0"/>
<line x1="715.93" y1="202.00" x2="718.73" y2="202.00" stroke="#000" stroke-width="1.0"/>
<rect x="722.85" y="214.70" width="6.90" height="57.30" fill="#9e9e9e"/>
<line x1="726.30" y1="214.70" x2="726.30" y2="207.40" stroke="#000" stroke-width="1.0"/>
<line x1="724.90" y1="207.40" x2="727.70" y2="207.40" stroke="#000" stroke-width="1.0"/>
<line x1="703.88" y1="272.00" x2="703.88" y2="274.40" stroke="#000" stroke-width="1.2"/>
<text x="703.08" y="282.70" font-family="'Liberation Sans', sans-serif" font-size="7.8" font-weight="normal" text-anchor="middle" fill="#000" stroke="#000" stroke-width="0.3">Day 5</text>
<rect x="737.20" y="242.20" width="6.90" height="29.80" fill="#000000"/>
<line x1="740.65" y1="242.20" x2="740.65" y2="241.60" stroke="#000" stroke-width="1.0"/>
<line x1="739.25" y1="241.60" x2="742.05" y2="241.60" stroke="#000" stroke-width="1.0"/>
<rect x="746.17" y="207.50" width="6.90" height="64.50" fill="#9a9a9a"/>
<line x1="749.62" y1="207.50" x2="749.62" y2="200.70" stroke="#000" stroke-width="1.0"/>
<line x1="748.22" y1="200.70" x2="751.02" y2="200.70" stroke="#000" stroke-width="1.0"/>
<rect x="755.14" y="201.20" width="6.90" height="70.80" fill="#7c7c7c"/>
<line x1="758.59" y1="201.20" x2="758.59" y2="196.60" stroke="#000" stroke-width="1.0"/>
<line x1="757.19" y1="196.60" x2="759.99" y2="196.60" stroke="#000" stroke-width="1.0"/>
<rect x="764.11" y="183.90" width="6.90" height="88.10" fill="#d5d5d5"/>
<line x1="767.56" y1="183.90" x2="767.56" y2="179.00" stroke="#000" stroke-width="1.0"/>
<line x1="766.16" y1="179.00" x2="768.96" y2="179.00" stroke="#000" stroke-width="1.0"/>
<rect x="773.08" y="212.90" width="6.90" height="59.10" fill="#5a5a5a"/>
<line x1="776.53" y1="212.90" x2="776.53" y2="206.10" stroke="#000" stroke-width="1.0"/>
<line x1="775.13" y1="206.10" x2="777.93" y2="206.10" stroke="#000" stroke-width="1.0"/>
<rect x="782.05" y="222.40" width="6.90" height="49.60" fill="#9e9e9e"/>
<line x1="785.50" y1="222.40" x2="785.50" y2="214.20" stroke="#000" stroke-width="1.0"/>
<line x1="784.10" y1="214.20" x2="786.90" y2="214.20" stroke="#000" stroke-width="1.0"/>
<line x1="763.08" y1="272.00" x2="763.08" y2="274.40" stroke="#000" stroke-width="1.2"/>
<text x="762.28" y="282.70" font-family="'Liberation Sans', sans-serif" font-size="7.8" font-weight="normal" text-anchor="middle" fill="#000" stroke="#000" stroke-width="0.3">Day 7</text>
<text x="591.00" y="220.90" font-family="'Liberation Sans', sans-serif" font-size="9.5" font-weight="bold" text-anchor="middle" fill="#000" transform="rotate(-90 591.00 220.90)" stroke="#000" stroke-width="0.3">TNF-α (pg/mL)</text>
<use href="#ast2" transform="translate(413.45 112.00) scale(2.700)" stroke="#4a4a4a"/>
<use href="#ast2" transform="translate(418.35 98.75) scale(2.700)" stroke="#4a4a4a"/>
<text x="422.10" y="102.20" font-family="'Liberation Serif', serif" font-size="9" font-weight="bold" text-anchor="start" fill="#222">$</text>
<use href="#ast2" transform="translate(431.20 101.90) scale(2.700)" stroke="#4a4a4a"/>
<use href="#ast2" transform="translate(440.30 100.10) scale(2.700)" stroke="#4a4a4a"/>
<use href="#ast2" transform="translate(473.00 92.60) scale(2.700)" stroke="#4a4a4a"/>
<use href="#ast2" transform="translate(477.30 42.70) scale(2.700)" stroke="#4a4a4a"/>
<text x="481.10" y="46.10" font-family="'Liberation Serif', serif" font-size="9" font-weight="bold" text-anchor="start" fill="#222">$</text>
<use href="#ast2" transform="translate(490.50 94.30) scale(2.700)" stroke="#4a4a4a"/>
<use href="#ast2" transform="translate(500.30 92.60) scale(2.700)" stroke="#4a4a4a"/>
<use href="#ast2" transform="translate(533.30 90.30) scale(2.700)" stroke="#4a4a4a"/>
<use href="#ast2" transform="translate(536.20 54.00) scale(2.700)" stroke="#4a4a4a"/>
<text x="540.00" y="57.40" font-family="'Liberation Serif', serif" font-size="9" font-weight="bold" text-anchor="start" fill="#222">$</text>
<use href="#ast2" transform="translate(550.40 92.80) scale(2.700)" stroke="#4a4a4a"/>
<use href="#ast2" transform="translate(559.50 93.10) scale(2.700)" stroke="#4a4a4a"/>
<use href="#ast2" transform="translate(644.90 51.00) scale(2.700)" stroke="#4a4a4a"/>
<text x="648.70" y="54.20" font-family="'Liberation Serif', serif" font-size="9" font-weight="bold" text-anchor="start" fill="#222">$</text>
<use href="#ast2" transform="translate(656.80 86.80) scale(2.700)" stroke="#4a4a4a"/>
<use href="#ast2" transform="translate(666.20 87.40) scale(2.700)" stroke="#4a4a4a"/>
<use href="#ast2" transform="translate(715.70 80.20) scale(2.700)" stroke="#4a4a4a"/>
<use href="#ast2" transform="translate(724.50 81.00) scale(2.700)" stroke="#4a4a4a"/>
<use href="#ast2" transform="translate(775.20 80.50) scale(2.700)" stroke="#4a4a4a"/>
<use href="#ast2" transform="translate(784.50 81.60) scale(2.700)" stroke="#4a4a4a"/>
<use href="#ast2" transform="translate(462.10 217.80) scale(2.700)" stroke="#4a4a4a"/>
<use href="#ast2" transform="translate(477.20 176.90) scale(2.700)" stroke="#4a4a4a"/>
<text x="480.90" y="180.20" font-family="'Liberation Serif', serif" font-size="9" font-weight="bold" text-anchor="start" fill="#222">$</text>
<use href="#ast2" transform="translate(489.10 249.70) scale(2.700)" stroke="#4a4a4a"/>
<use href="#ast2" transform="translate(497.90 246.50) scale(2.700)" stroke="#4a4a4a"/>
<use href="#ast2" transform="translate(521.90 213.50) scale(2.700)" stroke="#4a4a4a"/>
<use href="#ast2" transform="translate(530.80 233.70) scale(2.700)" stroke="#4a4a4a"/>
<use href="#ast2" transform="translate(536.00 181.70) scale(2.700)" stroke="#4a4a4a"/>
<text x="539.70" y="185.00" font-family="'Liberation Serif', serif" font-size="9" font-weight="bold" text-anchor="start" fill="#222">$</text>
<use href="#ast2" transform="translate(548.50 246.50) scale(2.700)" stroke="#4a4a4a"/>
<use href="#ast2" transform="translate(558.30 245.80) scale(2.700)" stroke="#4a4a4a"/>
<use href="#ast2" transform="translate(767.00 174.20) scale(2.600)" stroke="#4a4a4a"/>
</svg>
</body></html>
